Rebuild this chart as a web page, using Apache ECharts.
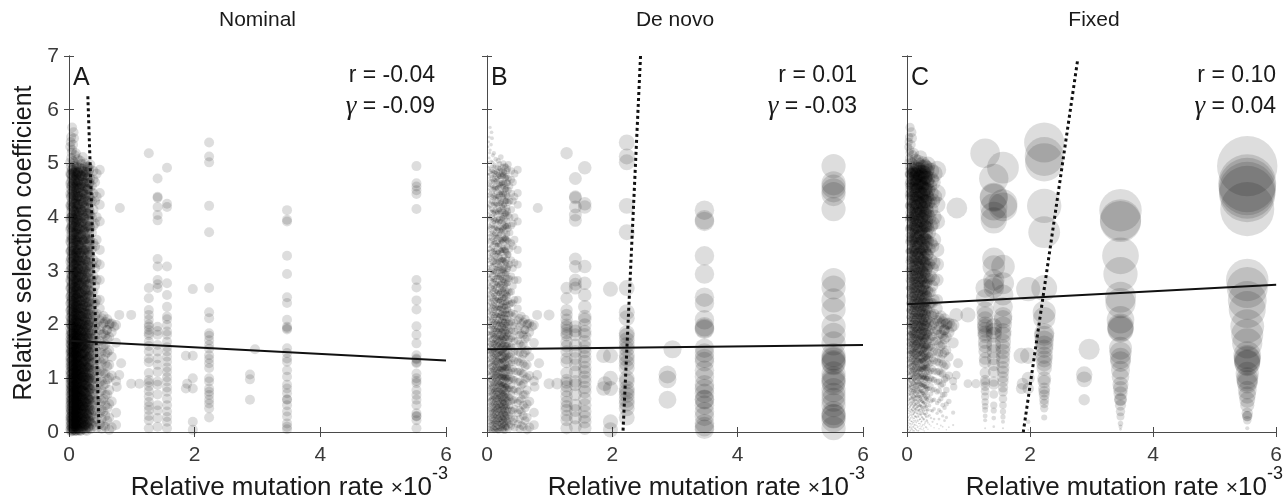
<!DOCTYPE html>
<html><head><meta charset="utf-8">
<script src="https://cdn.jsdelivr.net/npm/echarts@6/dist/echarts.min.js"></script>
<style>html,body{margin:0;padding:0;background:#fff}#c{width:1285px;height:500px}</style>
</head><body><div id="c"></div>
<script>
// ---- text ----
const panelTitles = ['Nominal', 'De novo', 'Fixed'];
const panelLetters = ['A', 'B', 'C'];
const rValues = ['-0.04', '0.01', '0.10'];
const gammaValues = ['-0.09', '-0.03', '0.04'];
const xTickValues = [0, 2, 4, 6];
const yTickValues = [0, 1, 2, 3, 4, 5, 6, 7];

// ---- data: x of each column of points ----
const colX = [0.02, 0.0275, 0.035, 0.0425, 0.05, 0.0575, 0.065, 0.0725, 0.08, 0.0875, 0.095, 0.1025, 0.11, 0.1175, 0.125, 0.1325, 0.14, 0.15, 0.16, 0.17, 0.18, 0.19, 0.20, 0.21, 0.22, 0.23, 0.24, 0.25, 0.26, 0.27, 0.28, 0.29, 0.30, 0.31, 0.32, 0.33, 0.34, 0.365, 0.39, 0.415, 0.44, 0.49, 0.52, 0.55, 0.58, 0.61, 0.64, 0.68, 0.75, 1.27, 1.41, 1.56, 2.23, 3.47, 5.53];
// y values of each column (relative selection coefficient)
const y002 = [0.04,0.12,0.21,0.27,0.35,0.44,0.5,0.58,0.67,0.73,0.82,0.9,0.97,1.06,1.13,1.22,1.31,1.38,1.47,1.55,1.64,1.72,1.81,1.93,2.02,2.14,2.26,2.39,2.52,2.68,2.83,3.01,3.17,3.36,3.55,3.77,3.98,4.21,4.43,4.62,4.81,5.02,5.31];
const y00275 = [0.05,0.17,0.28,0.4,0.52,0.63,0.77,0.88,1.0,1.12,1.26,1.37,1.5,1.62,1.74,1.87,2.0,2.13,2.27,2.4,2.53,2.67,2.8,2.94,3.09,3.23,3.37,3.52,3.66,3.8,3.94,4.08,4.23,4.37,4.52,4.66,4.79,4.93,5.4];
const y0035 = [0.01,0.09,0.15,0.24,0.3,0.39,0.43,0.55,0.6,0.7,0.79,0.85,0.94,0.99,1.08,1.18,1.23,1.31,1.4,1.48,1.53,1.63,1.69,1.8,1.86,1.99,2.08,2.2,2.3,2.45,2.57,2.71,2.88,3.04,3.22,3.38,3.6,3.81,4.0,4.19,4.39,4.58,4.8,5.1,5.49];
const y00425 = [0.1,0.22,0.34,0.47,0.59,0.71,0.83,0.96,1.08,1.2,1.33,1.45,1.57,1.7,1.83,1.96,2.09,2.22,2.35,2.48,2.61,2.75,2.89,3.02,3.16,3.3,3.44,3.58,3.72,3.86,4.0,4.14,4.29,4.44,4.58,4.73,4.87,5.2];
const y005 = [0.02,0.08,0.16,0.23,0.31,0.37,0.46,0.53,0.61,0.69,0.76,0.84,0.93,1.01,1.09,1.16,1.25,1.33,1.42,1.49,1.58,1.67,1.75,1.84,1.95,2.05,2.18,2.31,2.44,2.6,2.74,2.91,3.08,3.27,3.45,3.66,3.84,4.05,4.27,4.5,4.69,4.88,5.25,5.67];
const y00575 = [0.03,0.15,0.26,0.38,0.5,0.62,0.74,0.86,0.99,1.11,1.23,1.35,1.48,1.6,1.73,1.85,1.98,2.11,2.24,2.37,2.5,2.64,2.77,2.91,3.05,3.19,3.33,3.47,3.61,3.75,3.89,4.03,4.18,4.33,4.47,4.62,4.76,4.91];
const y0065 = [0.05,0.11,0.2,0.26,0.33,0.41,0.49,0.56,0.64,0.71,0.8,0.86,0.92,1.02,1.1,1.17,1.26,1.36,1.44,1.5,1.59,1.65,1.76,1.83,1.93,2.03,2.12,2.25,2.38,2.53,2.66,2.84,3.0,3.19,3.37,3.58,3.79,3.97,4.2,4.41,4.63,4.83,5.04,5.35];
const y00725 = [0.08,0.2,0.31,0.43,0.55,0.67,0.79,0.91,1.04,1.16,1.29,1.41,1.53,1.66,1.79,1.91,2.04,2.17,2.31,2.44,2.57,2.71,2.84,2.98,3.12,3.26,3.4,3.54,3.68,3.82,3.97,4.11,4.26,4.4,4.55,4.69,4.84,5.58];
const y008 = [0.06,0.14,0.19,0.29,0.36,0.42,0.52,0.6,0.65,0.74,0.81,0.89,0.99,1.05,1.15,1.21,1.29,1.4,1.46,1.53,1.62,1.7,1.79,1.87,1.98,2.1,2.22,2.35,2.47,2.63,2.79,2.95,3.13,3.31,3.5,3.72,3.93,4.12,4.35,4.57,4.76,4.95,5.47];
const y00875 = [0.04,0.16,0.27,0.39,0.51,0.64,0.76,0.88,1.0,1.13,1.25,1.38,1.5,1.63,1.76,1.89,2.02,2.15,2.28,2.42,2.55,2.69,2.82,2.96,3.1,3.24,3.38,3.52,3.66,3.81,3.95,4.1,4.24,4.39,4.53,4.68,4.82,5.02];
const y0095 = [0.02,0.1,0.18,0.24,0.32,0.4,0.46,0.54,0.62,0.7,0.77,0.85,0.95,1.03,1.11,1.18,1.28,1.34,1.45,1.52,1.6,1.69,1.78,1.85,1.94,2.04,2.16,2.29,2.4,2.55,2.7,2.86,3.03,3.21,3.4,3.61,3.83,4.04,4.25,4.46,4.66,4.86,5.15];
const y01025 = [0.09,0.21,0.33,0.45,0.57,0.69,0.81,0.94,1.06,1.19,1.31,1.44,1.56,1.69,1.81,1.94,2.07,2.2,2.33,2.47,2.6,2.73,2.87,3.0,3.14,3.28,3.43,3.57,3.71,3.85,3.99,4.13,4.28,4.42,4.57,4.71,4.85];
const y011 = [0.03,0.11,0.17,0.26,0.34,0.4,0.48,0.57,0.63,0.72,0.78,0.87,0.96,1.04,1.1,1.19,1.27,1.35,1.43,1.51,1.6,1.68,1.77,1.86,1.96,2.07,2.2,2.33,2.49,2.64,2.81,2.97,3.14,3.33,3.52,3.69,3.9,4.09,4.31,4.53,4.74,4.9,5.19];
const y01175 = [0.02,0.14,0.25,0.37,0.49,0.61,0.73,0.85,0.97,1.1,1.22,1.35,1.47,1.6,1.72,1.85,1.98,2.11,2.25,2.38,2.51,2.65,2.78,2.92,3.06,3.2,3.34,3.48,3.63,3.77,3.91,4.06,4.2,4.35,4.5,4.64,4.78,4.94];
const y0125 = [0.07,0.13,0.21,0.29,0.36,0.43,0.51,0.59,0.66,0.75,0.81,0.9,0.98,1.07,1.13,1.22,1.3,1.38,1.47,1.55,1.63,1.71,1.8,1.9,1.99,2.11,2.23,2.36,2.51,2.67,2.82,2.99,3.17,3.35,3.56,3.74,3.95,4.16,4.37,4.59,4.78,4.97];
const y01325 = [0.07,0.19,0.3,0.42,0.54,0.66,0.78,0.9,1.03,1.15,1.28,1.4,1.53,1.65,1.78,1.9,2.03,2.16,2.3,2.43,2.56,2.7,2.83,2.97,3.11,3.25,3.39,3.53,3.67,3.82,3.96,4.11,4.25,4.4,4.54,4.69,4.83];
const y014 = [0.05,0.13,0.22,0.28,0.38,0.45,0.51,0.6,0.68,0.75,0.83,0.92,1.0,1.08,1.17,1.24,1.32,1.41,1.5,1.57,1.66,1.74,1.83,1.92,2.03,2.15,2.28,2.42,2.57,2.72,2.88,3.05,3.23,3.4,3.59,3.8,4.02,4.24,4.46,4.66,4.84,5.08];
const y015 = [0.04,0.17,0.29,0.41,0.53,0.65,0.78,0.9,1.03,1.15,1.28,1.41,1.54,1.67,1.8,1.93,2.06,2.2,2.34,2.48,2.62,2.76,2.9,3.04,3.19,3.33,3.48,3.63,3.78,3.93,4.08,4.23,4.38,4.53,4.68,4.82];
const y016 = [0.03,0.12,0.19,0.27,0.35,0.44,0.5,0.58,0.67,0.74,0.83,0.91,0.99,1.06,1.15,1.24,1.33,1.4,1.49,1.58,1.67,1.76,1.85,1.95,2.06,2.18,2.31,2.46,2.61,2.77,2.93,3.11,3.29,3.48,3.68,3.89,4.1,4.33,4.54,4.73,4.92];
const y017 = [0.09,0.22,0.34,0.47,0.6,0.72,0.85,0.98,1.11,1.24,1.37,1.5,1.63,1.76,1.9,2.03,2.17,2.31,2.45,2.59,2.74,2.88,3.03,3.18,3.33,3.48,3.63,3.78,3.93,4.09,4.24,4.39,4.55,4.7,4.86];
const y018 = [0.02,0.1,0.2,0.3,0.39,0.47,0.55,0.64,0.7,0.79,0.88,0.98,1.07,1.14,1.23,1.34,1.44,1.53,1.63,1.71,1.8,1.9,2.0,2.12,2.24,2.37,2.5,2.66,2.82,2.99,3.16,3.35,3.54,3.75,3.96,4.18,4.39,4.6,4.79,5.05];
const y019 = [0.03,0.16,0.28,0.41,0.54,0.67,0.8,0.93,1.06,1.19,1.33,1.46,1.6,1.73,1.87,2.01,2.15,2.29,2.44,2.58,2.73,2.88,3.03,3.19,3.34,3.5,3.66,3.82,3.98,4.14,4.3,4.46,4.62,4.77,4.91];
const y020 = [0.06,0.16,0.23,0.33,0.41,0.49,0.58,0.66,0.74,0.84,0.92,1.01,1.09,1.18,1.27,1.37,1.46,1.56,1.65,1.75,1.84,1.94,2.05,2.17,2.3,2.44,2.59,2.75,2.92,3.1,3.28,3.47,3.68,3.9,4.13,4.35,4.56,4.76,4.99];
const y021 = [0.11,0.24,0.37,0.5,0.63,0.77,0.9,1.04,1.17,1.31,1.45,1.59,1.73,1.87,2.01,2.16,2.31,2.46,2.61,2.77,2.93,3.09,3.25,3.41,3.58,3.75,3.92,4.09,4.26,4.43,4.6,4.76,4.9];
const y022 = [0.07,0.15,0.24,0.32,0.43,0.5,0.59,0.66,0.77,0.85,0.94,1.02,1.11,1.2,1.3,1.39,1.48,1.59,1.69,1.78,1.89,1.99,2.09,2.21,2.36,2.51,2.67,2.84,3.0,3.19,3.38,3.58,3.81,4.03,4.26,4.47,4.68,4.86,5.12];
const y023 = [0.05,0.19,0.33,0.47,0.61,0.75,0.89,1.03,1.17,1.32,1.46,1.61,1.76,1.91,2.06,2.22,2.38,2.54,2.7,2.87,3.04,3.21,3.38,3.56,3.74,3.92,4.1,4.28,4.46,4.63,4.8];
const y024 = [0.1,0.2,0.28,0.38,0.48,0.57,0.68,0.76,0.87,0.97,1.06,1.16,1.26,1.35,1.46,1.56,1.67,1.77,1.88,2.0,2.13,2.27,2.42,2.58,2.75,2.93,3.12,3.33,3.54,3.76,3.99,4.21,4.43,4.64,4.85];
const y025 = [0.12,0.27,0.42,0.57,0.72,0.87,1.02,1.17,1.33,1.48,1.64,1.8,1.96,2.13,2.3,2.47,2.65,2.83,3.01,3.2,3.39,3.58,3.78,3.98,4.18,4.38,4.57,4.76,4.94];
const y026 = [0.04,0.14,0.25,0.35,0.45,0.54,0.63,0.73,0.82,0.91,1.01,1.12,1.21,1.31,1.42,1.52,1.63,1.73,1.85,1.96,2.08,2.2,2.34,2.5,2.65,2.83,3.02,3.21,3.43,3.66,3.88,4.11,4.34,4.56,4.78,5.0];
const y027 = [0.07,0.23,0.39,0.55,0.71,0.87,1.03,1.2,1.36,1.53,1.7,1.87,2.05,2.23,2.41,2.6,2.79,2.99,3.19,3.39,3.6,3.81,4.02,4.23,4.44,4.64,4.84];
const y028 = [0.02,0.13,0.24,0.34,0.46,0.56,0.68,0.79,0.89,1.0,1.1,1.22,1.33,1.45,1.56,1.68,1.8,1.93,2.05,2.19,2.34,2.5,2.68,2.87,3.06,3.27,3.49,3.72,3.95,4.18,4.41,4.62,4.83];
const y029 = [0.16,0.33,0.5,0.67,0.85,1.02,1.2,1.38,1.56,1.75,1.94,2.13,2.33,2.53,2.74,2.95,3.17,3.39,3.61,3.84,4.07,4.3,4.52,4.74,4.95];
const y030 = [0.09,0.19,0.31,0.41,0.52,0.62,0.74,0.84,0.96,1.06,1.18,1.28,1.4,1.51,1.62,1.75,1.86,1.99,2.12,2.26,2.41,2.58,2.76,2.95,3.15,3.37,3.6,3.83,4.07,4.29,4.52,4.73,4.93];
const y031 = [0.1,0.28,0.46,0.64,0.83,1.01,1.2,1.39,1.59,1.79,1.99,2.2,2.42,2.64,2.87,3.1,3.34,3.58,3.82,4.06,4.3,4.53,4.76];
const y032 = [0.08,0.22,0.35,0.48,0.61,0.73,0.86,0.99,1.11,1.24,1.36,1.49,1.62,1.76,1.89,2.03,2.19,2.36,2.55,2.76,2.98,3.21,3.45,3.69,3.93,4.17,4.41,4.64,4.86];
const y033 = [0.2,0.4,0.6,0.8,1.0,1.2,1.41,1.62,1.84,2.06,2.29,2.53,2.78,3.04,3.3,3.57,3.84,4.11,4.38,4.64,4.9];
const y034 = [0.05,0.17,0.29,0.42,0.55,0.67,0.8,0.93,1.04,1.16,1.3,1.43,1.55,1.69,1.82,1.95,2.1,2.27,2.44,2.63,2.86,3.08,3.3,3.55,3.79,4.03,4.27,4.5,4.72,4.98];
const y0365 = [0.14,0.31,0.49,0.64,0.81,0.96,1.11,1.27,1.42,1.58,1.73,1.88,2.03,2.19,2.38,2.6,2.85,3.12,3.41,3.71,4.0,4.3,4.58];
const y039 = [0.11,0.26,0.4,0.57,0.71,0.86,1.0,1.14,1.29,1.45,1.6,1.74,1.9,2.05,2.22,2.4,2.61,2.9,3.2,3.52,3.84,4.14,4.44,4.7,4.86];
const y0415 = [0.19,0.39,0.59,0.78,0.98,1.18,1.37,1.57,1.78,1.98,2.16,2.4,2.72,3.05,3.46,3.88,4.3,4.65];
const y044 = [0.08,0.24,0.43,0.6,0.79,0.97,1.13,1.33,1.5,1.69,1.87,2.03,2.2,2.46,2.83,3.15,3.58,4.0,4.38,4.81];
const y049 = [0.15,0.35,0.54,0.75,0.93,1.12,1.31,1.49,1.7,1.9,2.08,2.3,2.46,2.83,3.12,3.39,3.92,4.23,4.45,4.88];
const y052 = [0.06,0.24,0.41,0.58,0.77,0.94,1.13,1.29,1.47,1.64,1.81,1.97,2.12];
const y055 = [0.12,0.38,0.62,0.87,1.1,1.36,1.6,1.83,2.02,2.16];
const y058 = [0.1,0.3,0.5,0.69,0.9,1.08,1.27,1.45,1.63,1.8,2.05];
const y061 = [0.21,0.45,0.7,0.98,1.22,1.48,1.73,1.9,2.1];
const y064 = [0.04,0.27,0.52,0.78,1.01,1.25,1.52,1.77,2.0];
const y068 = [0.09,0.57,1.05,1.4,1.86,2.02];
const y075 = [0.36,0.95,1.66,1.99];
const y127 = [5.19,2.68,2.49,2.27,2.18,2.09,2.0,1.96,1.9,1.84,1.8,1.68,1.6,1.5,1.37,1.3,1.1,0.97,0.92,0.85,0.76,0.66,0.56,0.48,0.41,0.3,0.22,0.07];
const y141 = [4.72,4.38,4.36,4.19,4.04,3.94,3.22,3.08,2.83,2.75,2.68,1.96,1.88,1.81,1.62,1.5,1.37,1.25,1.12,0.94,0.88,0.7,0.5,0.4,0.26,0.1];
const y156 = [4.92,4.25,4.19,3.08,2.77,2.55,2.33,2.15,2.1,1.99,1.87,1.81,1.68,1.58,1.5,1.4,1.31,1.2,1.12,1.02,0.94,0.83,0.75,0.62,0.5,0.38,0.28,0.19,0.07];
const y223 = [5.39,5.13,5.02,4.21,3.72,2.68,2.23,2.12,1.84,1.79,1.71,1.62,1.55,1.43,1.36,1.28,1.19,1.0,0.94,0.81,0.75,0.69,0.6,0.53,0.44,0.27];
const y347 = [4.13,3.95,3.92,3.28,2.94,2.51,2.4,2.09,1.96,1.91,1.93,1.56,1.47,1.37,1.31,1.15,1.03,0.88,0.81,0.72,0.6,0.61,0.5,0.38,0.29,0.16,0.1,0.05];
const y553 = [4.95,4.63,4.57,4.5,4.43,4.15,2.83,2.69,2.45,2.28,1.97,1.81,1.65,1.43,1.37,1.35,1.3,1.28,1.09,1.0,0.95,0.91,0.78,0.69,0.6,0.5,0.35,0.3,0.29,0.22,0.07];
const colY = [y002, y00275, y0035, y00425, y005, y00575, y0065, y00725, y008, y00875, y0095, y01025, y011, y01175, y0125, y01325, y014, y015, y016, y017, y018, y019, y020, y021, y022, y023, y024, y025, y026, y027, y028, y029, y030, y031, y032, y033, y034, y0365, y039, y0415, y044, y049, y052, y055, y058, y061, y064, y068, y075, y127, y141, y156, y223, y347, y553];
// isolated points
const extraX = [0.81, 0.80, 0.99, 0.65, 0.72, 0.60, 0.83, 0.80, 0.99, 1.12, 0.76, 0.75, 1.86, 1.97, 1.97, 1.86, 1.97, 1.97, 1.97, 1.97, 2.96, 2.88, 2.88, 2.88, 1.88];
const extraY = [4.17, 2.18, 2.18, 2.02, 1.96, 1.90, 1.28, 1.06, 0.90, 0.90, 0.84, 0.13, 1.42, 2.66, 1.42, 0.81, 1.00, 0.81, 0.19, 0.04, 1.54, 1.07, 0.98, 0.60, 0.90];

// ---- fitted lines (solid) and dotted lines ----
const fitA = [[0, 1.70], [6, 1.33]];
const fitB = [[0, 1.54], [6, 1.62]];
const fitC = [[0, 2.38], [6, 2.74]];
const dotA = [[0.30, 6.25], [0.48, 0]];
const dotB = [[2.45, 7], [2.17, 0]];
const dotC = [[2.77, 6.9], [1.89, 0]];
const fits = [fitA, fitB, fitC];
const dots = [dotA, dotB, dotC];

// ---- build points ----
const points = [];
colX.forEach((x, i) => colY[i].forEach(y => points.push([x, y])));
extraX.forEach((x, i) => points.push([x, extraY[i]]));

// marker sizes (weights) per panel
const sizeFns = [
  () => 10,
  v => Math.max(2, 11 * Math.pow(v[0] + 0.02, 0.46)),
  v => Math.max(1.5, 9 * Math.pow(v[0] + 0.08, 0.52) * Math.pow(Math.max(v[1], 0.02), 0.63))
];

const grids = [
  { left: 69, top: 56, width: 377, height: 376 },
  { left: 487, top: 56, width: 376, height: 376 },
  { left: 907, top: 56, width: 374, height: 376 }
];
const textRightPad = [11, 6, 5];

const axisCol = '#4a4a4a';
const labelCol = '#3a3a3a';
const ink = '#1a1a1a';
const FONT = 'Liberation Sans, Arial, sans-serif';

const xAxes = [], yAxes = [], series = [], graphics = [];
grids.forEach((g, i) => {
  const lineStyle = { color: axisCol, width: 1 };
  xAxes.push({
    gridIndex: i, type: 'value', min: 0, max: 6, interval: 2, position: 'bottom',
    axisLine: { show: true, lineStyle }, axisTick: { show: true, inside: true, length: 5, lineStyle },
    axisLabel: { show: true, fontSize: 21, color: labelCol, fontFamily: FONT, margin: 13 },
    splitLine: { show: false }
  });
  xAxes.push({
    gridIndex: i, type: 'value', min: 0, max: 6, interval: 2, position: 'top',
    axisLine: { show: true, lineStyle }, axisTick: { show: true, inside: true, length: 5, lineStyle },
    axisLabel: { show: false }, splitLine: { show: false }
  });
  yAxes.push({
    gridIndex: i, type: 'value', min: 0, max: 7, interval: 1, position: 'left',
    axisLine: { show: true, lineStyle }, axisTick: { show: true, inside: true, length: 5, lineStyle },
    axisLabel: { show: i === 0, fontSize: 21, color: labelCol, fontFamily: FONT, margin: 10 },
    splitLine: { show: false }
  });
  yAxes.push({
    gridIndex: i, type: 'value', min: 0, max: 7, interval: 1, position: 'right',
    axisLine: { show: true, lineStyle }, axisTick: { show: true, inside: true, length: 5, lineStyle },
    axisLabel: { show: false }, splitLine: { show: false }
  });
  series.push({
    type: 'scatter', xAxisIndex: 2 * i, yAxisIndex: 2 * i, data: points,
    symbol: 'circle', symbolSize: sizeFns[i],
    itemStyle: { color: 'rgba(0,0,0,0.17)', borderWidth: 0 },
    clip: true, z: 2, silent: true, large: false, progressive: 0
  });
  series.push({
    type: 'line', xAxisIndex: 2 * i, yAxisIndex: 2 * i, data: fits[i],
    symbol: 'none', lineStyle: { color: '#111', width: 2 }, z: 5, silent: true
  });
  series.push({
    type: 'line', xAxisIndex: 2 * i, yAxisIndex: 2 * i, data: dots[i],
    symbol: 'none', lineStyle: { color: '#111', width: 3, type: [3, 3] }, z: 6, silent: true
  });
  const right = g.left + g.width;
  const cx = g.left + g.width / 2;
  const tr = right - textRightPad[i];
  graphics.push({ type: 'text', x: cx, y: 20, style: { text: panelTitles[i], font: '21px ' + FONT, fill: ink, align: 'center', verticalAlign: 'middle' } });
  graphics.push({ type: 'text', x: g.left + 4, y: 78, style: { text: panelLetters[i], font: '25px ' + FONT, fill: ink, align: 'left', verticalAlign: 'middle' } });
  graphics.push({ type: 'text', x: tr, y: 76, style: { text: 'r = ' + rValues[i], font: '23px ' + FONT, fill: ink, align: 'right', verticalAlign: 'middle' } });
  graphics.push({ type: 'text', x: tr, y: 107, style: {
    text: '{g|γ}{t| = ' + gammaValues[i] + '}', align: 'right', verticalAlign: 'middle',
    rich: { g: { font: 'italic 27px Liberation Serif, serif', fill: ink }, t: { font: '23px ' + FONT, fill: ink } }
  } });
  graphics.push({ type: 'text', x: right - 14, y: 488, style: {
    text: '{a|Relative mutation rate }{m|×}{a|10}', align: 'right', verticalAlign: 'middle',
    rich: { a: { font: '26px ' + FONT, fill: ink }, m: { font: '21px ' + FONT, fill: ink } }
  } });
  graphics.push({ type: 'text', x: right - 14, y: 474, style: { text: '-3', font: '18px ' + FONT, fill: ink, align: 'left', verticalAlign: 'middle' } });
});
graphics.push({ type: 'text', x: 24, y: 243, rotation: Math.PI / 2, style: { text: 'Relative selection coefficient', font: '25px ' + FONT, fill: ink, align: 'center', verticalAlign: 'middle' } });

const chart = echarts.init(document.getElementById('c'), null, { renderer: 'canvas' });
chart.setOption({
  animation: false,
  backgroundColor: '#fff',
  grid: grids,
  xAxis: xAxes,
  yAxis: yAxes,
  series: series,
  graphic: graphics
});
</script></body></html>
